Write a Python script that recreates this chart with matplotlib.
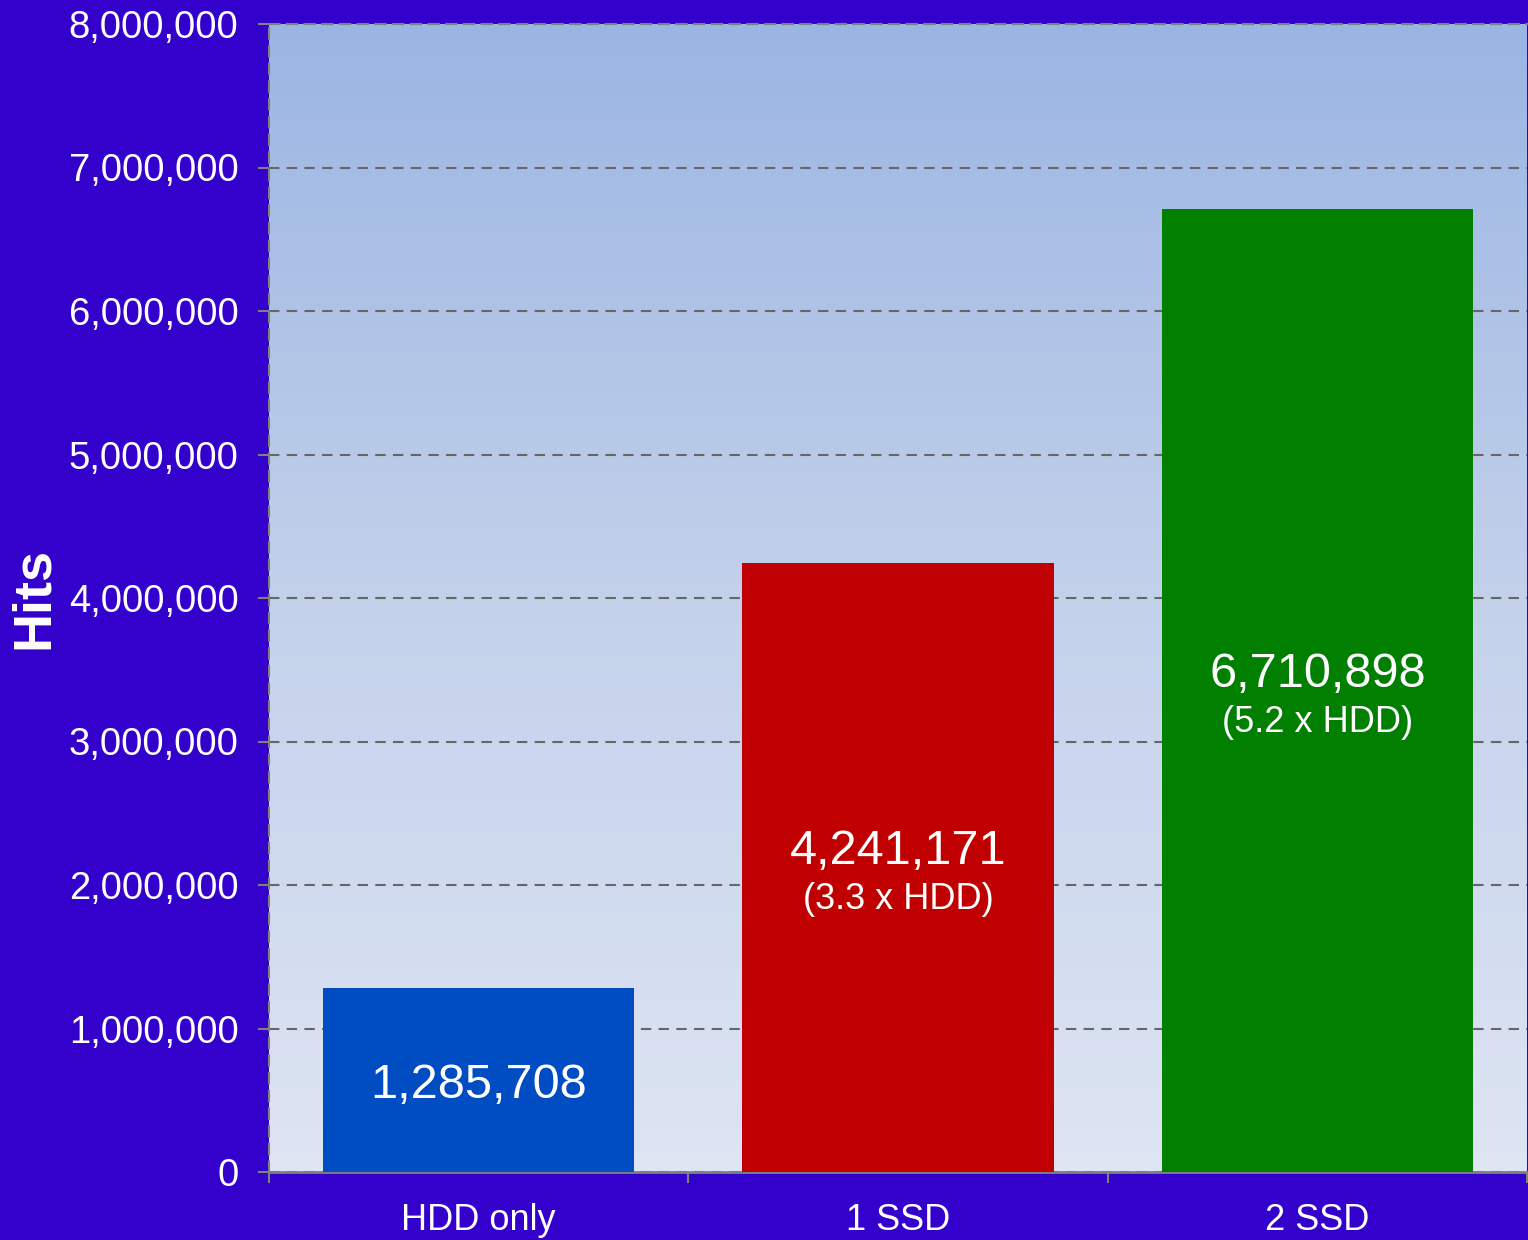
import numpy as np
import matplotlib
matplotlib.use("Agg")
import matplotlib.pyplot as plt
from matplotlib.colors import LinearSegmentedColormap
from matplotlib.ticker import FuncFormatter

plt.rcParams['font.family'] = ['Liberation Sans', 'DejaVu Sans']

# Hits per configuration
configs = ['HDD only', '1 SSD', '2 SSD']
hits = [1285708, 4241171, 6710898]
ratios = [None, '(3.3 x HDD)', '(5.2 x HDD)']
bar_colors = ['#004CC3', '#C00000', '#007F00']

bg = '#3300CC'
grid_col = '#666666'

fig = plt.figure(figsize=(15.28, 12.40), dpi=100, facecolor=bg)
ax = fig.add_axes([269 / 1528, 68 / 1240, 1258 / 1528, 1148 / 1240])

# vertical gradient behind the bars
grad = LinearSegmentedColormap.from_list('bgfade', ['#DEE5F3', '#C3D1EB', '#9BB5E3'])
ax.imshow(np.linspace(0, 1, 256).reshape(-1, 1), cmap=grad, origin='lower',
          extent=[0, 1, 0, 1], transform=ax.transAxes, aspect='auto', zorder=0)

x = np.arange(len(configs))
ax.bar(x, hits, width=0.742, color=bar_colors, zorder=3)

ax.set_xlim(-0.5, 2.5)
ax.set_ylim(0, 8000000)
ax.set_yticks(np.arange(0, 8000001, 1000000))
ax.yaxis.set_major_formatter(FuncFormatter(lambda v, _: f'{int(v):,}'))

ax.set_xticks(x)
ax.set_xticklabels(configs)
ax.set_xticks(np.arange(-0.5, 3, 1), minor=True)
ax.tick_params(axis='x', which='major', length=0, pad=22, labelsize=26, labelcolor='white')
ax.tick_params(axis='x', which='minor', length=8, width=1.5, color='#808080', direction='out')
ax.tick_params(axis='y', length=8, width=1.5, color='#808080', pad=14,
               labelsize=27.5, labelcolor='white')

ax.yaxis.grid(True, linestyle=(0, (5, 3.5)), color=grid_col, linewidth=1.5, zorder=1)
ax.set_axisbelow(True)

for side in ['left', 'top']:
    ax.spines[side].set_linestyle((0, (5, 3.5)))
    ax.spines[side].set_color('#808080')
    ax.spines[side].set_linewidth(1.5)
ax.spines['bottom'].set_color('#808080')
ax.spines['bottom'].set_linewidth(2)
ax.spines['right'].set_visible(False)

ax.set_ylabel('Hits', fontsize=39, fontweight='bold', color='white', labelpad=7)

# value labels in the middle of each bar
for xi, h, r in zip(x, hits, ratios):
    mid = h / 2
    if r is None:
        ax.annotate(f'{h:,}', (xi, mid), xytext=(0, -4), textcoords='offset points',
                    ha='center', va='center', color='white', fontsize=35, zorder=4)
    else:
        ax.annotate(f'{h:,}', (xi, mid), xytext=(0, 11.5), textcoords='offset points',
                    ha='center', va='center', color='white', fontsize=35, zorder=4)
        ax.annotate(r, (xi, mid), xytext=(0, -23), textcoords='offset points',
                    ha='center', va='center', color='white', fontsize=26, zorder=4)

fig.savefig('out.png', dpi=100, facecolor=bg)
